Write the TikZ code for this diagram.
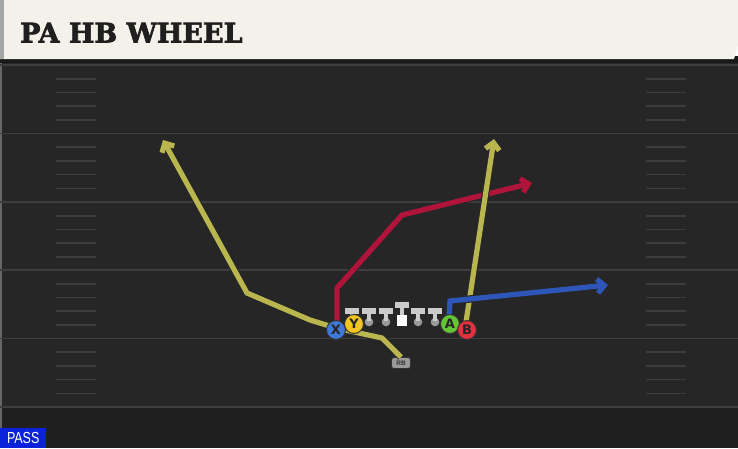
\documentclass[tikz,border=0pt]{standalone}
\usepackage{fontspec}
\setmainfont{DejaVu Serif}
\newfontfamily\titlef{DejaVu Serif}[BoldFeatures={FakeBold=2.4}]
\newfontfamily\sansf{Liberation Sans}
\newfontfamily\dejasans{DejaVu Sans}
\usetikzlibrary{arrows.meta}
\definecolor{field}{HTML}{262626}
\definecolor{fieldlow}{HTML}{1F1F1F}
\definecolor{yardline}{HTML}{3E3E3E}
\definecolor{hashc}{HTML}{3C3C3C}
\definecolor{cream}{HTML}{F4F1EA}
\definecolor{rtyellow}{HTML}{B9B650}
\definecolor{rtred}{HTML}{B0143A}
\definecolor{rtblue}{HTML}{2D56B8}
\definecolor{pblue}{HTML}{3F78D6}
\definecolor{pyellow}{HTML}{F2C520}
\definecolor{pgreen}{HTML}{63C634}
\definecolor{pred}{HTML}{E3313F}
\definecolor{passblue}{HTML}{0B22DB}
\definecolor{lgray}{HTML}{CBCBCB}
\definecolor{dgray}{HTML}{9A9A9A}
\tikzset{
  routeout/.style={line width=7.4pt, draw=black!85, line join=miter, -{Straight Barb[length=8pt,width=16pt,line width=7.4pt]}},
  route/.style={line width=5.2pt, line join=miter, -{Straight Barb[length=7pt,width=14pt,line width=5.2pt]}},
  player/.style={circle, draw=black!80, line width=1pt, minimum size=19pt, inner sep=0pt,
     font=\dejasans\bfseries\fontsize{13}{13}\selectfont, text=black!85},
  hashmark/.style={draw=hashc, line width=1.6pt},
  yline/.style={draw=yardline, line width=1.8pt},
  tbar/.style={fill=lgray},
  tball/.style={fill=dgray},
}
\begin{document}
\begin{tikzpicture}[x=1pt,y=-1pt]
\useasboundingbox (0,0) rectangle (738,448);
% field
\fill[field] (0,58) rectangle (738,448);
\fill[fieldlow] (0,408) rectangle (738,448);
\fill[black!60] (0,0) rectangle (2,448);
\fill[black!90] (0,56) rectangle (738,63);
% title bar
\fill[cream] (0,0) -- (738,0) -- (738,46) -- (734,59) -- (0,59) -- cycle;
\fill[black!35] (0,0) rectangle (4,59);
\node[anchor=base west, font=\titlef\bfseries\fontsize{27}{27}\selectfont, text=black!88, inner sep=0pt] (title) at (20,42.5) {PA HB WHEEL};
% yard lines
\foreach \y in {65,133.5,202,270,338.5,407}{\draw[yline] (0,\y) -- (738,\y);}
% hash marks
\foreach \b in {65,133.5,202,270,338.5}{
  \foreach \k in {1,2,3,4}{
    \draw[hashmark] (56,\b+\k*13.7) -- (96,\b+\k*13.7);
    \draw[hashmark] (646,\b+\k*13.7) -- (686,\b+\k*13.7);
  }}
% coordinates
\coordinate (rb1) at (382,338);
\coordinate (rb2) at (310,320);
\coordinate (rb3) at (247,293);
\coordinate (rbend) at (163,140);
\coordinate (r1) at (337,288);
\coordinate (r2) at (402,215);
\coordinate (rend) at (532,183);
\coordinate (ystart) at (466,322);
\coordinate (yend) at (494,139);
\coordinate (b1) at (450,301);
\coordinate (bend) at (608,285);
% RB node
\node[draw=black!80, line width=0.8pt, fill=dgray, rounded corners=2.5pt, minimum width=19pt, minimum height=11pt, inner sep=0pt,
  font=\sansf\bfseries\fontsize{6.5}{6.5}\selectfont, text=black!80] (rb) at (401,363) {RB};
% routes (outline then color)
\draw[routeout] (rb.north) -- (rb1) -- (336,328) -- (rb2) -- (rb3) -- (rbend);
\draw[route, rtyellow] (rb.north) -- (rb1) -- (336,328) -- (rb2) -- (rb3) -- (rbend);
\draw[routeout] (337,328) -- (r1) -- (r2) -- (rend);
\draw[route, rtred] (337,328) -- (r1) -- (r2) -- (rend);
\draw[routeout] (ystart) -- (yend);
\draw[route, rtyellow] (ystart) -- (yend);
\draw[routeout] (449,318) -- (b1) -- (bend);
\draw[route, rtblue] (449,318) -- (b1) -- (bend);
% linemen
\foreach \x/\n in {352/l1,369/l2,386/l3,418/l5,435/l6}{
  \fill[tball] (\x,322) circle (4.3pt);
  \fill[tbar] (\x-2,311) rectangle (\x+2,321);
  \fill[tbar] (\x-7,307.5) rectangle (\x+7,313.5);
  \coordinate (\n) at (\x,315);
}
\fill[tbar] (400,305) rectangle (404,316);
\fill[tbar] (395,302) rectangle (409,308);
\fill[white] (397,315) rectangle (407,326);
\coordinate (l4) at (402,315);
% players
\node[player, fill=pblue] (X) at (336,330) {X};
\node[player, fill=pyellow] (Y) at (354,324) {Y};
\node[player, fill=pgreen] (A) at (450,324) {A};
\node[player, fill=pred] (B) at (467,330) {B};
% pass label
\node[fill=passblue, text=white, anchor=south west, minimum width=46pt, minimum height=20pt, inner sep=0pt,
  font=\sansf\fontsize{16}{16}\selectfont] (pass) at (0,448) {\scalebox{0.78}[1]{PASS}};
\end{tikzpicture}
\end{document}
